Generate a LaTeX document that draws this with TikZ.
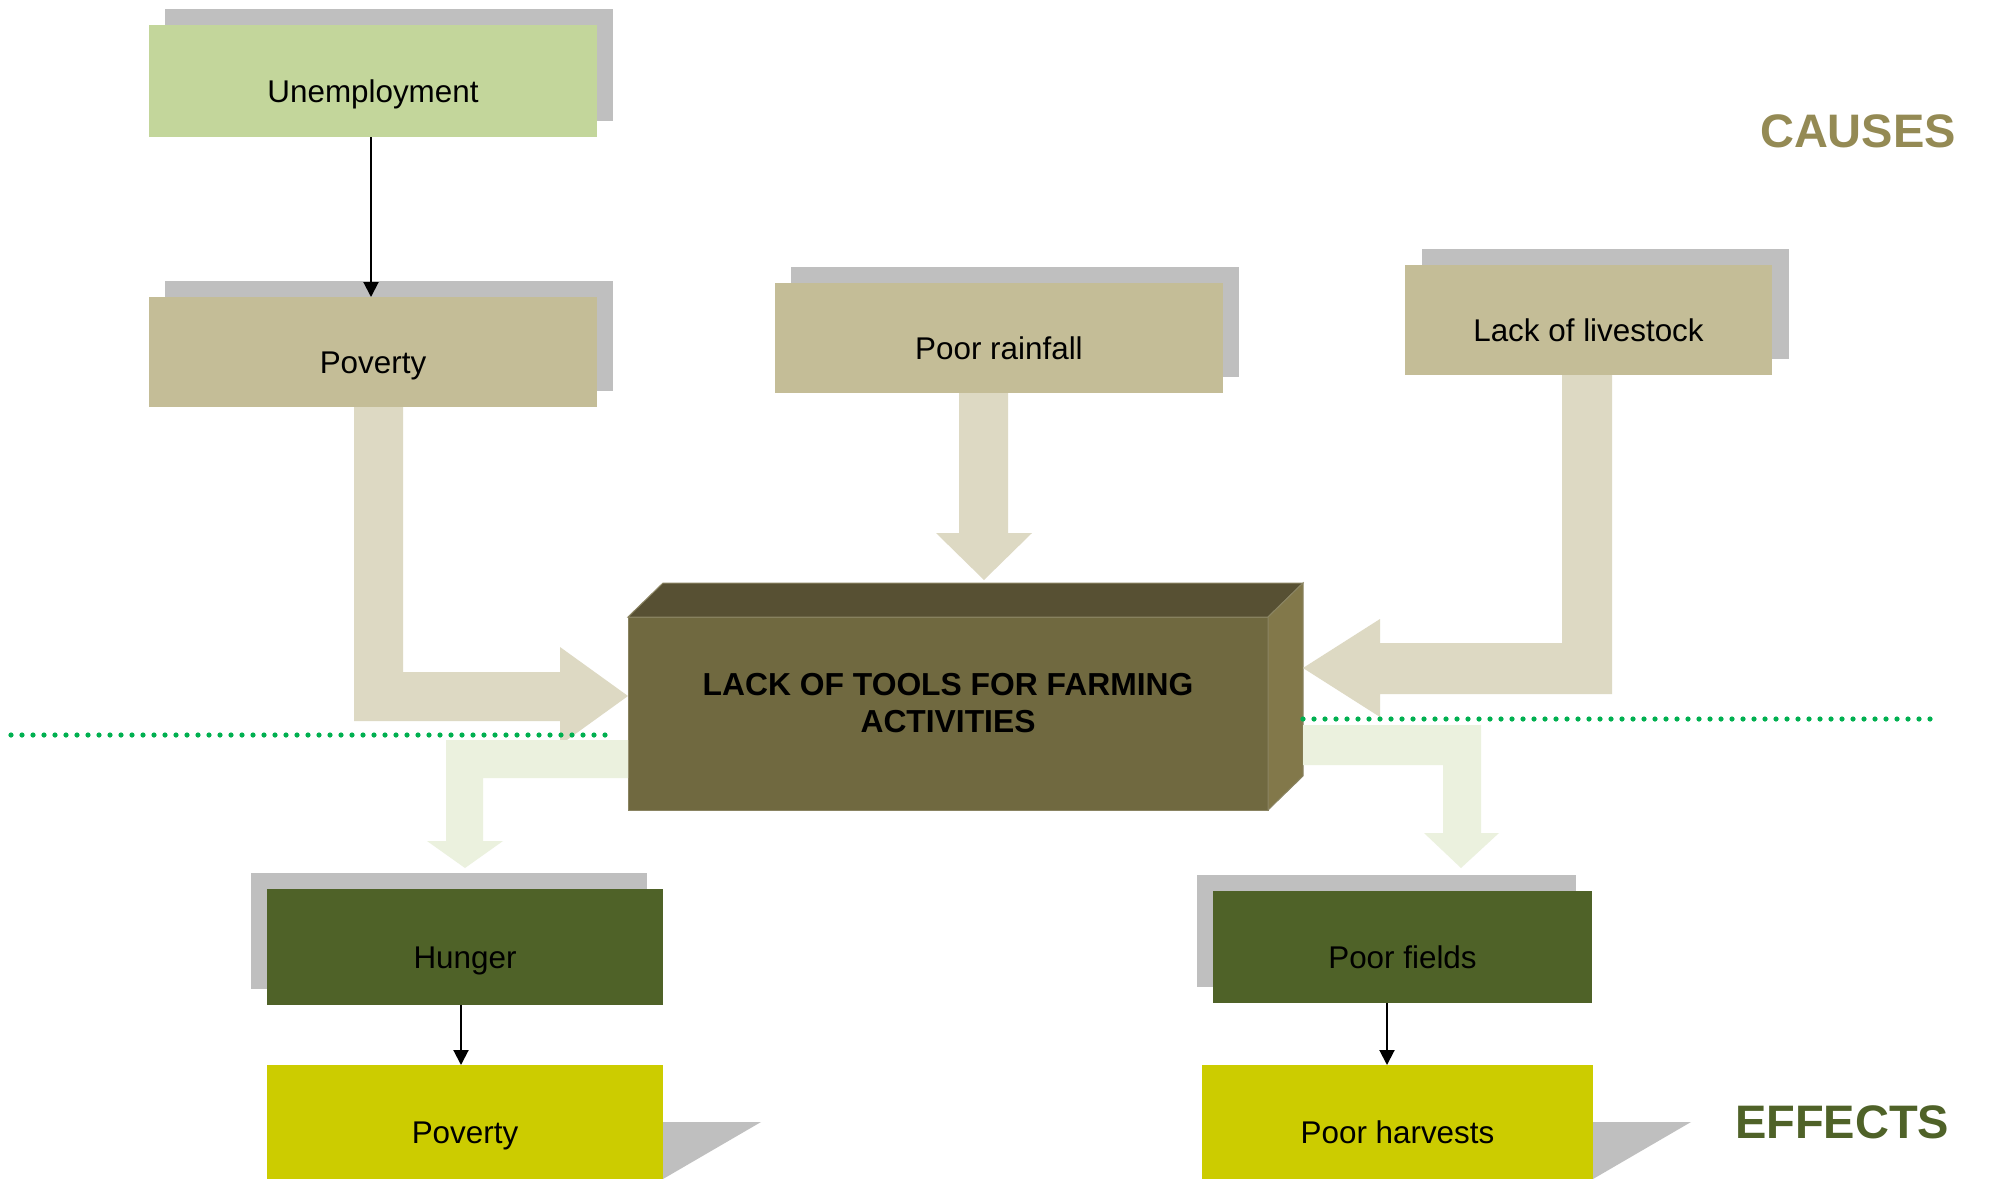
\documentclass[tikz,border=0pt]{standalone}
\usepackage{fontspec}
\setmainfont{Liberation Sans}
\usetikzlibrary{arrows.meta}

\definecolor{shadowgray}{HTML}{BFBFBF}
\definecolor{causelight}{HTML}{C3D69B}
\definecolor{causebox}{HTML}{C4BD97}
\definecolor{causearrow}{HTML}{DDD9C3}
\definecolor{effectdark}{HTML}{4F6228}
\definecolor{effectyellow}{HTML}{CCCC00}
\definecolor{effectarrow}{HTML}{EBF1DE}
\definecolor{cubefront}{HTML}{706940}
\definecolor{cubetop}{HTML}{575033}
\definecolor{cubeside}{HTML}{82784A}
\definecolor{cubeedge}{HTML}{8A8462}
\definecolor{dotgreen}{HTML}{00B050}
\definecolor{causetitle}{HTML}{948A54}

\begin{document}
\begin{tikzpicture}[x=0.5pt,y=-0.5pt,
  box/.style={rectangle, inner sep=0pt, outer sep=0pt, draw=none,
    font=\fontsize{15.7}{18}\selectfont, text=black,
    text height=21pt, text depth=0pt},
  shade/.style={fill=shadowgray, draw=none},
  fatcause/.style={fill=causearrow, draw=none},
  fateffect/.style={fill=effectarrow, draw=none},
  thinlink/.style={draw=black, line width=1pt,
    -{Triangle[length=7.5pt,width=7.5pt]}},
  divider/.style={draw=dotgreen, line width=2.6pt, line cap=round,
    dash pattern=on 0pt off 5.5pt},
  title/.style={font=\fontsize{23.5}{26}\selectfont\bfseries, anchor=base west}
]
\useasboundingbox[fill=white] (0,0) rectangle (1994,1179);

% ---------- shadows of the cause boxes (offset up-right) ----------
\fill[shade] (165,9) rectangle (613,121);
\fill[shade] (165,281) rectangle (613,391);
\fill[shade] (791,267) rectangle (1239,377);
\fill[shade] (1422,249) rectangle (1789,359);

% ---------- shadows of the effect boxes ----------
\fill[shade] (251,873) rectangle (647,989);
\fill[shade] (1197,875) rectangle (1576,987);
\fill[shade] (663,1122) -- (761,1122) -- (663,1179) -- cycle;
\fill[shade] (1593,1122) -- (1691,1122) -- (1593,1179) -- cycle;

% ---------- cause boxes ----------
\node[box, fill=causelight, minimum width=224pt, minimum height=56pt]
  (unemp) at (373,81) {Unemployment};
\node[box, fill=causebox, minimum width=224pt, minimum height=55pt]
  (pov) at (373,352) {Poverty};
\node[box, fill=causebox, minimum width=224pt, minimum height=55pt]
  (rain) at (999,338) {Poor rainfall};
\node[box, fill=causebox, minimum width=183.5pt, minimum height=55pt]
  (stock) at (1588.5,320) {Lack of livestock};

% ---------- central cube ----------
\node[rectangle, inner sep=0pt, outer sep=0pt, fill=cubefront,
  draw=cubeedge, line width=0.5pt, minimum width=320pt, minimum height=96.5pt]
  (core) at (948,713.5) {};
\filldraw[fill=cubetop, draw=cubeedge, line width=0.5pt]
  (core.north west) -- ++(35,-34) -- ++(640,0) -- (core.north east) -- cycle;
\filldraw[fill=cubeside, draw=cubeedge, line width=0.5pt]
  (core.north east) -- ++(35,-34) -- ++(0,193) -- (core.south east) -- cycle;
\node[font=\fontsize{15.9}{18.5}\selectfont\bfseries, align=center, text=black]
  (coretext) at (948,703) {LACK OF TOOLS FOR FARMING\\ACTIVITIES};

% ---------- broad arrows from the causes ----------
\fill[fatcause] (pov.south -| 354,0) -- (pov.south -| 403,0) -- (403,672)
  -- (560,672) -- (560,647) -- (core.west |- 0,696) -- (560,745) -- (560,721)
  -- (354,721) -- cycle;
\fill[fatcause] (rain.south -| 959,0) -- (rain.south -| 1008,0) -- (1008,533)
  -- (1032,533) -- (984,580) -- (936,533) -- (959,533) -- cycle;
\fill[fatcause] (stock.south -| 1562,0) -- (stock.south -| 1612,0) -- (1612,694)
  -- (1380,694) -- (1380,717) -- (1303,668) -- (1380,619) -- (1380,643)
  -- (1562,643) -- cycle;

% ---------- effect boxes ----------
\node[box, fill=effectdark, minimum width=198pt, minimum height=58pt]
  (hunger) at (465,947) {Hunger};
\node[box, fill=effectyellow, minimum width=198pt, minimum height=57pt]
  (pov2) at (465,1122) {Poverty};
\node[box, fill=effectdark, minimum width=189.5pt, minimum height=56pt]
  (fields) at (1402.5,947) {Poor fields};
\node[box, fill=effectyellow, minimum width=195.5pt, minimum height=57pt]
  (harvest) at (1397.5,1122) {Poor harvests};

% ---------- broad arrows to the effects ----------
\fill[fateffect] (core.west |- 0,740) -- (core.west |- 0,778) -- (483,778)
  -- (483,841) -- (503,841) -- (465,868) -- (427,841) -- (446,841)
  -- (446,740) -- cycle;
\fill[fateffect] (1303,725) -- (1481,725) -- (1481,833) -- (1499,833)
  -- (1461,868) -- (1424,833) -- (1443,833) -- (1443,765) -- (1303,765)
  -- cycle;

% ---------- dotted divider between causes and effects ----------
\draw[divider] (11,735) -- (614,735);
\draw[divider] (1303,719) -- (1940,719);

% ---------- thin connectors ----------
\draw[thinlink] ([xshift=-1pt]unemp.south) -- ([xshift=-1pt]pov.north);
\draw[thinlink] ([xshift=-2pt]hunger.south) -- ([xshift=-2pt]pov2.north);
\draw[thinlink] ([xshift=-7.75pt]fields.south)
  -- ([xshift=-7.75pt]fields.south |- harvest.north);

% ---------- headings ----------
\node[title, text=causetitle] (causes) at (1753,147) {CAUSES};
\node[title, text=effectdark] (effects) at (1728,1138) {EFFECTS};
\end{tikzpicture}
\end{document}
